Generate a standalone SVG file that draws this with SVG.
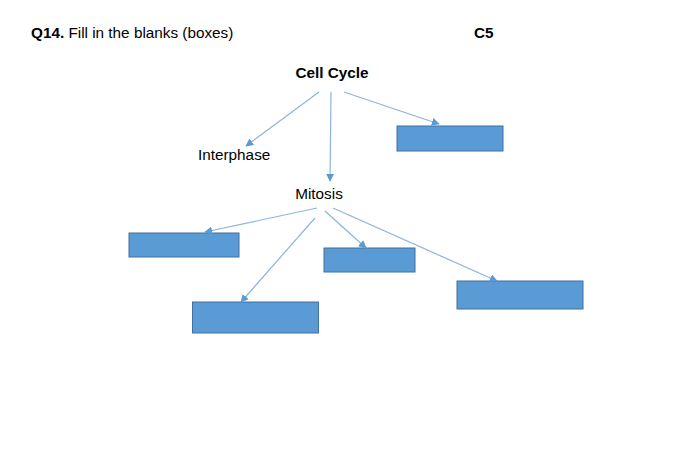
<svg xmlns="http://www.w3.org/2000/svg" width="700" height="469" viewBox="0 0 700 469">
<style>
.t{font-family:"Liberation Sans",Arial,sans-serif;font-size:15.3px;fill:#000}
.b{font-weight:bold}
.box{fill:#5b9bd5;stroke:#41719c;stroke-width:1}
.c{stroke:#8db3de;stroke-width:1.2;fill:none;marker-end:url(#ah)}
</style>
<defs>
<marker id="ah" viewBox="0 0 10 10" refX="9" refY="5" markerWidth="8" markerHeight="8" markerUnits="userSpaceOnUse" orient="auto">
<path d="M0,0 L10,5 L0,10 z" fill="#5b9bd5"/>
</marker>
</defs>
<rect width="700" height="469" fill="#fff"/>
<g id="title"><text class="t" x="31" y="38"><tspan class="b">Q14.</tspan> Fill in the blanks (boxes)</text></g>
<g id="code"><text class="t b" x="474" y="38">C5</text></g>
<g id="cellcycle"><text class="t b" x="332" y="78" text-anchor="middle">Cell Cycle</text></g>
<g id="interphase"><text class="t" x="198" y="160">Interphase</text></g>
<g id="mitosis"><text class="t" x="319" y="199" text-anchor="middle">Mitosis</text></g>
<g id="box1"><rect class="box" x="397" y="126" width="106" height="25"/></g>
<g id="box2"><rect class="box" x="129" y="233" width="110" height="24"/></g>
<g id="box3"><rect class="box" x="192.5" y="302" width="126" height="31"/></g>
<g id="box4"><rect class="box" x="324" y="248" width="91" height="24"/></g>
<g id="box5"><rect class="box" x="457" y="281" width="126" height="28"/></g>
<g id="connectors">
<line class="c" x1="319" y1="92" x2="246" y2="146"/>
<line class="c" x1="331" y1="92" x2="330" y2="181"/>
<line class="c" x1="344" y1="92" x2="439" y2="124"/>
<line class="c" x1="317" y1="208" x2="205" y2="232"/>
<line class="c" x1="315" y1="218" x2="241" y2="302"/>
<line class="c" x1="325" y1="211" x2="366" y2="248"/>
<line class="c" x1="333" y1="208" x2="497" y2="281"/>
</g>
</svg>
